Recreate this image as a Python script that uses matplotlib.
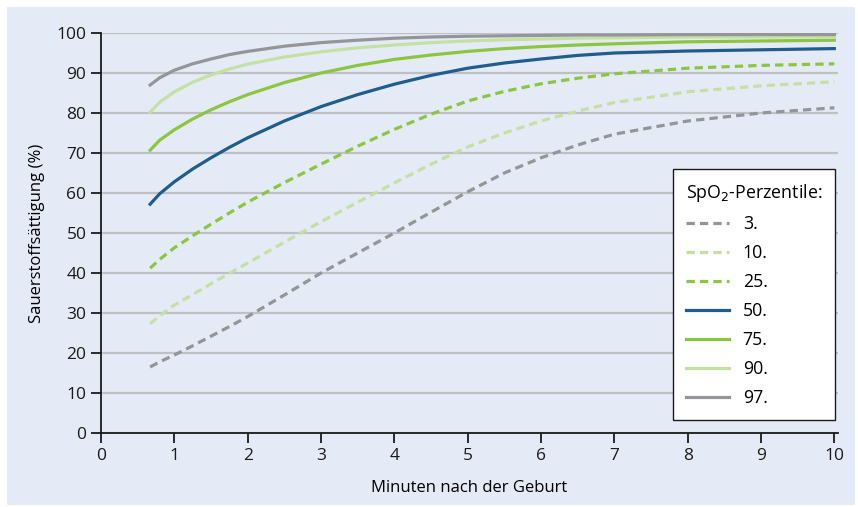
import matplotlib.pyplot as plt
from matplotlib.patches import Rectangle

plt.rcParams['font.family'] = ['Open Sans', 'DejaVu Sans']

# minutes after birth
minutes = [0.67, 0.8, 1, 1.25, 1.5, 1.75, 2, 2.5, 3, 3.5, 4, 4.5, 5, 5.5, 6, 6.5, 7, 8, 9, 10]

p3 = [16.5, 17.8, 19.5, 21.8, 24.2, 26.6, 29.1, 34.5, 40.0, 45.0, 50.0, 55.2, 60.3, 65.0, 68.8,
      72.0, 74.7, 78.0, 80.0, 81.3]
p10 = [27.3, 29.3, 32.0, 34.6, 37.3, 39.9, 42.5, 47.7, 52.8, 57.7, 62.5, 67.2, 71.5, 75.0, 78.0,
       80.5, 82.6, 85.3, 86.8, 87.8]
p25 = [41.2, 43.4, 46.3, 49.3, 52.2, 55.0, 57.7, 62.6, 67.2, 71.7, 75.9, 79.7, 83.0, 85.4, 87.3,
       88.7, 89.8, 91.2, 91.9, 92.3]
p50 = [57.2, 59.8, 62.8, 66.0, 68.8, 71.4, 73.8, 78.0, 81.6, 84.6, 87.2, 89.4, 91.2, 92.5, 93.5,
       94.4, 95.0, 95.5, 95.8, 96.1]
p75 = [70.7, 73.2, 75.8, 78.5, 80.8, 82.8, 84.6, 87.6, 90.0, 91.9, 93.4, 94.5, 95.4, 96.1, 96.6,
       97.0, 97.3, 97.8, 98.0, 98.2]
p90 = [80.2, 82.7, 85.3, 87.7, 89.5, 91.0, 92.2, 94.0, 95.3, 96.3, 97.0, 97.6, 98.0, 98.3, 98.5,
       98.7, 98.8, 99.0, 99.0, 99.1]
p97 = [87.0, 88.8, 90.7, 92.3, 93.5, 94.6, 95.4, 96.7, 97.6, 98.2, 98.7, 99.0, 99.2, 99.3, 99.4,
       99.5, 99.5, 99.6, 99.6, 99.6]

labels = ['3.', '10.', '25.', '50.', '75.', '90.', '97.']

bg = '#e5ebf6'
grey = '#939598'
light = '#c5e0a3'
green = '#8cc540'
blue = '#1e5d8c'

fig = plt.figure(figsize=(8.58, 5.07), dpi=100)
fig.patches.append(Rectangle((7 / 858, 2 / 507), 848 / 858, 498 / 507,
                             transform=fig.transFigure, facecolor=bg,
                             edgecolor='none', zorder=-10))
ax = fig.add_axes([101 / 858, 74 / 507, 737 / 858, 400 / 507])
ax.set_facecolor(bg)

styles = [
    (p3, grey, True),
    (p10, light, True),
    (p25, green, True),
    (p50, blue, False),
    (p75, green, False),
    (p90, light, False),
    (p97, grey, False),
]
for (vals, col, dashed), lab in zip(styles, labels):
    if dashed:
        ax.plot(minutes, vals, color=col, lw=2.3, dashes=(2.6, 1.6), label=lab, zorder=3)
    else:
        ax.plot(minutes, vals, color=col, lw=2.3, label=lab, zorder=3)

ax.set_xlim(0, 10.05)
ax.set_ylim(0, 100)
ax.set_xticks(range(0, 11))
ax.set_yticks(range(0, 101, 10))
ax.yaxis.grid(True, color='#bfbfc4', lw=1.6)
ax.set_axisbelow(True)
for s in ['top', 'right']:
    ax.spines[s].set_visible(False)
for s in ['left', 'bottom']:
    ax.spines[s].set_linewidth(1.3)
    ax.spines[s].set_color('#1a1a1a')
ax.tick_params(direction='out', length=7, width=1.3, labelsize=12.5, colors='#1a1a1a')
ax.set_xlabel('Minuten nach der Geburt', fontsize=12, labelpad=12)
ax.set_ylabel('Sauerstoffsättigung (%)', fontsize=12, labelpad=8)

leg = ax.legend(title='SpO$_2$-Perzentile:', loc='lower right',
                bbox_to_anchor=(0.996, 0.0325), borderaxespad=0,
                fontsize=12.8, title_fontsize=12.8,
                frameon=True, fancybox=False, framealpha=1, edgecolor='#1a1a1a',
                handlelength=2.4, labelspacing=0.62, borderpad=0.72)
leg._legend_box.align = 'left'
leg.get_frame().set_linewidth(1.0)

fig.savefig('out.png', dpi=100)
